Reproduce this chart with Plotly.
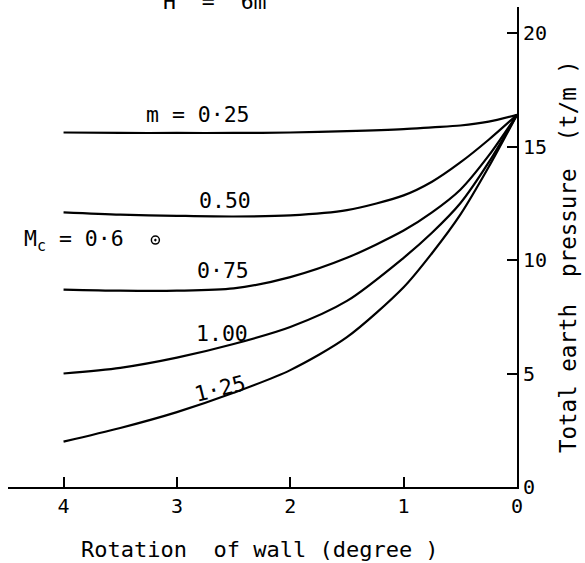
import plotly.graph_objects as go

# Data
rotation = [4, 3.5, 3, 2.5, 2, 1.5, 1, 0.75, 0.5, 0.25, 0]
m_labels = ["m = 0·25", "0.50", "0·75", "1.00", "1·25"]
p_m025 = [15.62, 15.6, 15.6, 15.6, 15.62, 15.68, 15.77, 15.85, 15.93, 16.1, 16.4]
p_m050 = [12.1, 12.0, 11.95, 11.92, 11.97, 12.2, 12.85, 13.45, 14.3, 15.3, 16.4]
p_m075 = [8.7, 8.65, 8.65, 8.75, 9.25, 10.1, 11.3, 12.1, 13.1, 14.6, 16.4]
p_m100 = [5.0, 5.25, 5.7, 6.3, 7.05, 8.2, 10.1, 11.2, 12.5, 14.3, 16.4]
p_m125 = [2.0, 2.6, 3.3, 4.15, 5.15, 6.6, 8.8, 10.3, 12.0, 14.1, 16.4]
series = [p_m025, p_m050, p_m075, p_m100, p_m125]
mc_point_x = [3.19]
mc_point_y = [10.88]
x_ticks = [4, 3, 2, 1, 0]
y_ticks = [0, 5, 10, 15, 20]

FONT = "DejaVu Sans Mono"

fig = go.Figure()
for s in series:
    fig.add_trace(go.Scatter(x=rotation, y=s, mode="lines",
                             line=dict(color="black", width=2.2, shape="spline", smoothing=0.8),
                             showlegend=False, hoverinfo="skip"))
fig.add_trace(go.Scatter(x=mc_point_x, y=mc_point_y, mode="markers",
                         marker=dict(symbol="circle-open-dot", size=8, color="black",
                                     line=dict(width=1.5, color="black")),
                         showlegend=False, hoverinfo="skip"))

label_pos = [(2.81, 16.43, 0), (2.58, 12.64, 0), (2.59, 9.56, 0), (2.60, 6.78, 0), (2.62, 4.36, -14)]
annots = []
for txt, (ax, ay, ang) in zip(m_labels, label_pos):
    annots.append(dict(x=ax, y=ay, xref="x", yref="y", text=txt, showarrow=False,
                       xanchor="center", yanchor="middle",
                       textangle=ang, font=dict(family=FONT, size=21.5, color="black")))
annots.append(dict(x=4.37, y=10.88, xref="x", yref="y", xanchor="left", yanchor="middle",
                   text="M<sub>c</sub> = 0·6", showarrow=False,
                   font=dict(family=FONT, size=21.5, color="black")))
annots.append(dict(x=0.4067, y=1.0125, xref="paper", yref="paper",
                   xanchor="center", yanchor="middle",
                   text="H  =  6m", showarrow=False,
                   font=dict(family=FONT, size=21.5, color="black")))
annots.append(dict(x=0.495, y=-0.13, xref="paper", yref="paper",
                   xanchor="center", yanchor="middle",
                   text="Rotation  of wall (degree )", showarrow=False,
                   font=dict(family=FONT, size=22, color="black")))
annots.append(dict(x=1.100, y=0.481, xref="paper", yref="paper", textangle=-90,
                   xanchor="center", yanchor="middle",
                   text="Total earth  pressure  (t/m )", showarrow=False,
                   font=dict(family=FONT, size=22.5, color="black")))

fig.update_layout(
    width=585, height=563,
    margin=dict(l=8, r=68, t=7, b=76),
    paper_bgcolor="white", plot_bgcolor="white",
    annotations=annots,
    xaxis=dict(range=[4.49, 0], tickvals=x_ticks, ticktext=[str(v) for v in x_ticks],
               ticks="inside", ticklen=10, tickwidth=1.5, tickcolor="black",
               showline=True, linecolor="black", linewidth=2, showgrid=False, zeroline=False,
               tickfont=dict(family=FONT, size=20, color="black")),
    yaxis=dict(range=[0, 21.15], side="right", tickvals=y_ticks, ticktext=[str(v) for v in y_ticks],
               ticks="inside", ticklen=10, tickwidth=1.5, tickcolor="black",
               showline=True, linecolor="black", linewidth=2, showgrid=False, zeroline=False,
               tickfont=dict(family=FONT, size=20, color="black")),
)
fig.write_html("out.html")
